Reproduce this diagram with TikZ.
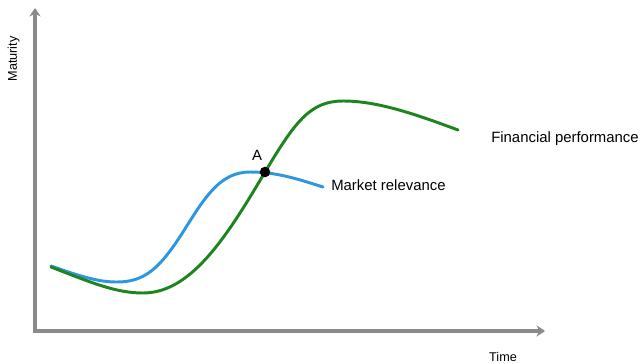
\documentclass[tikz,border=0pt]{standalone}
\usepackage{fontspec}
\setmainfont{Liberation Sans}
\usetikzlibrary{arrows.meta}
\definecolor{axisgray}{RGB}{138,138,138}
\definecolor{relblue}{RGB}{45,150,222}
\definecolor{perfgreen}{RGB}{30,132,30}
\tikzset{
	axis/.style={line width=2.2pt, color=axisgray, {Stealth[length=6pt,width=8pt]}-{Stealth[length=6pt,width=8pt]}},
	curve/.style={line width=2.1pt, line cap=round},
	biglabel/.style={font=\fontsize{10.6}{12}\selectfont, inner sep=0pt},
	smalllabel/.style={font=\fontsize{9}{11}\selectfont, inner sep=0pt},
	crossdot/.style={circle, fill=black, minimum size=7.5pt, inner sep=0pt}
}

\begin{document}
\begin{tikzpicture}[x=0.025cm, y=-0.025cm]
		%%%%% START %%%%%
		\useasboundingbox (0, 0) rectangle (643, 363);
		
		% axes
		\draw[axis] (35, 8) -- (35, 331) -- (545, 331);
		\node[smalllabel, rotate=90, anchor=base] (maturity) at (17, 59) {Maturity};
		\node[smalllabel, anchor=base] (time) at (503, 361) {Time};
		
		% market relevance
		\draw[curve, relblue] (51, 266) .. controls (85, 278) and (100, 282) .. (117, 282)
			.. controls (145, 282) and (160, 268) .. (183, 232)
			.. controls (205, 197) and (220, 172) .. (250, 172)
			.. controls (275, 172) and (295, 178) .. (323, 187);
		
		% financial performance
		\draw[curve, perfgreen] (51, 267) .. controls (90, 282) and (115, 293) .. (143, 293)
			.. controls (190, 293) and (225, 240) .. (265, 172)
			.. controls (295, 122) and (310, 101) .. (343, 101)
			.. controls (375, 101) and (410, 112) .. (458, 130);
		
		\node[crossdot] (A) at (265, 172) {};
		\node[biglabel, anchor=base] (Alabel) at (257, 160) {A};
		
		\node[biglabel, anchor=base west] (relevance) at (331, 190) {Market relevance};
		\node[biglabel, anchor=base west] (performance) at (491, 142) {Financial performance};
		%%%%% END %%%%%
	\end{tikzpicture}
\end{document}
